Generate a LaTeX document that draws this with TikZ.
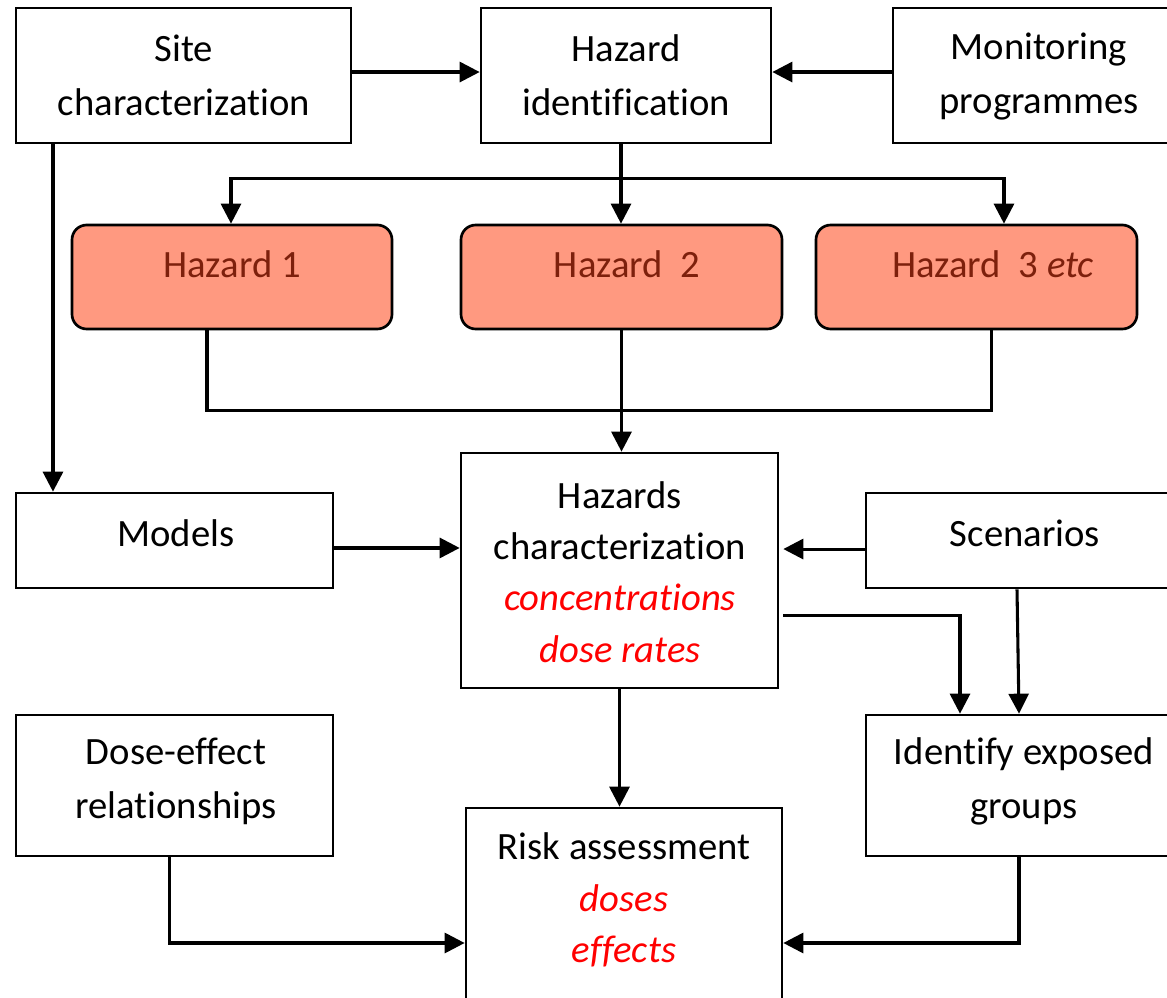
\documentclass[tikz,border=0pt]{standalone}
\usepackage{fontspec}
\setmainfont{Carlito}[RawFeature={-liga;-clig;-dlig;-calt}]
\usetikzlibrary{arrows.meta,fit}
\definecolor{hzfill}{RGB}{255,153,128}
\definecolor{hztext}{RGB}{125,32,12}
\definecolor{redtxt}{RGB}{255,0,0}
\begin{document}
\begin{tikzpicture}[x=0.75pt,y=-0.75pt,
  box/.style={draw, line width=2pt, inner sep=0pt, rectangle},
  hz/.style={draw, line width=2pt, fill=hzfill, rounded corners=11pt, inner sep=0pt},
  lbl/.style={font=\fontsize{29}{40.5}\selectfont, align=center, inner sep=0pt},
  rlbl/.style={font=\fontsize{29}{38.5}\selectfont, align=center, inner sep=0pt},
  hzlbl/.style={lbl, text=hztext},
  arr/.style={-{Triangle[length=15pt,width=15pt]}, line width=2.3pt},
  ln/.style={line width=2.3pt}]
\useasboundingbox (0,0) rectangle (1167,998);
\clip (0,0) rectangle (1167,998);

% boxes
\node[box, fit={(16,8)(351,143)}] (site) {};
\node[box, fit={(481,8)(771,143)}] (hazid) {};
\node[box, fit={(893,8)(1185,143)}] (mon) {};
\node[hz, fit={(72,225)(392,329)}] (hz1) {};
\node[hz, fit={(461,225)(782,329)}] (hz2) {};
\node[hz, fit={(816,225)(1137,329)}] (hz3) {};
\node[box, fit={(16,493)(333,588)}] (models) {};
\node[box, fit={(461,453)(778,688)}] (hc) {};
\node[box, fit={(866,493)(1184,588)}] (scen) {};
\node[box, fit={(16,715)(333,856)}] (dose) {};
\node[box, fit={(866,715)(1184,856)}] (ident) {};
\node[box, fit={(466,808)(782,1078)}] (risk) {};

% labels
\node[lbl] (tsite) at (184,75) {Site\\characterization};
\node[lbl] (thazid) at (626,75) {Hazard\\identification};
\node[lbl] (tmon) at (1039,77) {Monitoring\\programmes};
\node[hzlbl] (thz1) at (232,264) {Hazard 1};
\node[hzlbl] (thz2) at (627,264) {Hazard\ \ 2};
\node[hzlbl] (thz3) at (993,264) {Hazard\ \ 3 \textit{etc}};
\node[lbl] (tmodels) at (176,533) {Models};
\node[rlbl] (thc) at (620,572) {Hazards\\characterization\\\textcolor{redtxt}{\textit{concentrations}}\\\textcolor{redtxt}{\textit{dose rates}}};
\node[lbl] (tscen) at (1025,533) {Scenarios};
\node[lbl] (tdose) at (176,781) {Dose-effect\\relationships};
\node[lbl] (tident) at (1024,781) {Identify exposed\\groups};
\node[rlbl] (trisk) at (624,900) {Risk assessment\\\textcolor{redtxt}{\textit{doses}}\\\textcolor{redtxt}{\textit{effects}}};

% connectors
\draw[arr] ([yshift=2.6pt]site.east) -- ([yshift=2.6pt]site.east -| hazid.west);
\draw[arr] ([yshift=2.6pt]mon.west) -- ([yshift=2.6pt]mon.west -| hazid.east);
\draw[arr] ([xshift=-3.75pt]hazid.south) -- ([xshift=-3.75pt]hazid.south |- hz2.north);
\draw[ln] ([xshift=-3.75pt]hazid.south) ++(0,34) coordinate (br);
\draw[arr] (br) -| ([xshift=-0.75pt]hz1.north);
\draw[arr] (br) -| ([xshift=20.6pt]hz3.north);
\draw[ln] ([xshift=-18.75pt]hz1.south) -- ++(0,80) -| ([xshift=10.9pt]hz3.south);
\draw[arr] (hz2.south) -- (hz2.south |- hc.north);
\draw[arr] ([xshift=-97.9pt]site.south) -- ([xshift=-97.9pt]site.south |- models.north);
\draw[arr] ([yshift=-5.6pt]models.east) -- ([yshift=-5.6pt]models.east -| hc.west);
\draw[arr] ([yshift=-6.4pt]scen.west) -- ([yshift=-6.4pt,xshift=3pt]scen.west -| hc.east);
\draw[arr] ([yshift=-33.4pt,xshift=3pt]hc.east) -| ([xshift=-48.75pt]ident.north);
\draw[arr] ([xshift=-6pt]scen.south) -- ([xshift=-4.5pt]ident.north);
\draw[arr] (hc.south) -- (hc.south |- risk.north);
\draw[arr] ([xshift=-4.1pt]dose.south) |- (risk.west);
\draw[arr] ([xshift=-4.5pt]ident.south) |- (risk.east);
\end{tikzpicture}
\end{document}
